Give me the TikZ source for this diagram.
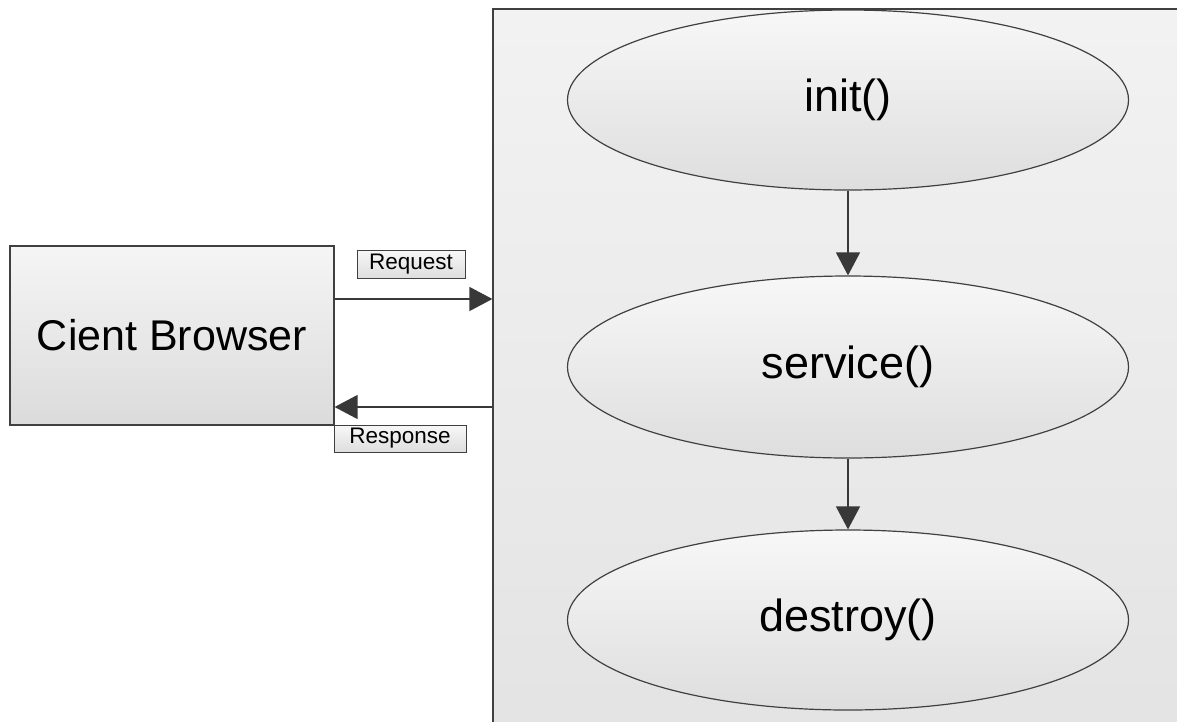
\documentclass[tikz,border=0pt]{standalone}
\usepackage{fontspec}
\setmainfont{Liberation Sans}
\usetikzlibrary{arrows.meta,shapes.geometric}
\definecolor{edge}{HTML}{404040}
\definecolor{arrowc}{HTML}{383838}
\tikzset{
  boxstyle/.style={draw=edge, line width=1.2pt, top color=white!96!black, bottom color=white!86!black, inner sep=0pt},
  lblstyle/.style={draw=edge, line width=1pt, top color=white!97!black, bottom color=white!87!black, inner sep=0pt, font=\fontsize{22.5}{26}\selectfont},
  ovalstyle/.style={ellipse, draw=edge, line width=1.2pt, top color=white!97!black, bottom color=white!87!black, inner sep=0pt, minimum width=561pt, font=\fontsize{45}{52}\selectfont},
  arr/.style={draw=arrowc, line width=1.4pt, -{Triangle[length=23pt,width=24pt]}},
}
\begin{document}
\begin{tikzpicture}[x=1pt,y=-1pt]
\useasboundingbox (0,0) rectangle (1177,721);
\fill[white] (0,0) rectangle (1177,721);
\begin{scope}
\clip (0,0) rectangle (1177,721);
\node[draw=edge, line width=1.2pt, top color=white!95!black, bottom color=white!89!black, minimum width=727pt, minimum height=751pt, inner sep=0pt] (srv) at (856.5,384.5) {};
\end{scope}
\node[boxstyle, minimum width=324pt, minimum height=179pt, font=\fontsize{43}{50}\selectfont] (cb) at (172,335.5) {Cient Browser};
\node[lblstyle, minimum width=108pt, minimum height=28pt] (req) at (411,264) {Request};
\node[lblstyle, minimum width=132pt, minimum height=27pt] (resp) at (400,438.5) {Response};
\node[ovalstyle, minimum height=180pt] (init) at (848,100) {init()};
\node[ovalstyle, minimum height=182pt] (service) at (848,367) {service()};
\node[ovalstyle, minimum height=180pt] (destroy) at (848,620) {destroy()};
\draw[arr] (cb.east |- 0,299) -- (srv.west |- 0,299);
\draw[arr] (srv.west |- 0,407) -- (cb.east |- 0,407);
\draw[arr] (init) -- (service);
\draw[arr] (service) -- (destroy);
\end{tikzpicture}
\end{document}
